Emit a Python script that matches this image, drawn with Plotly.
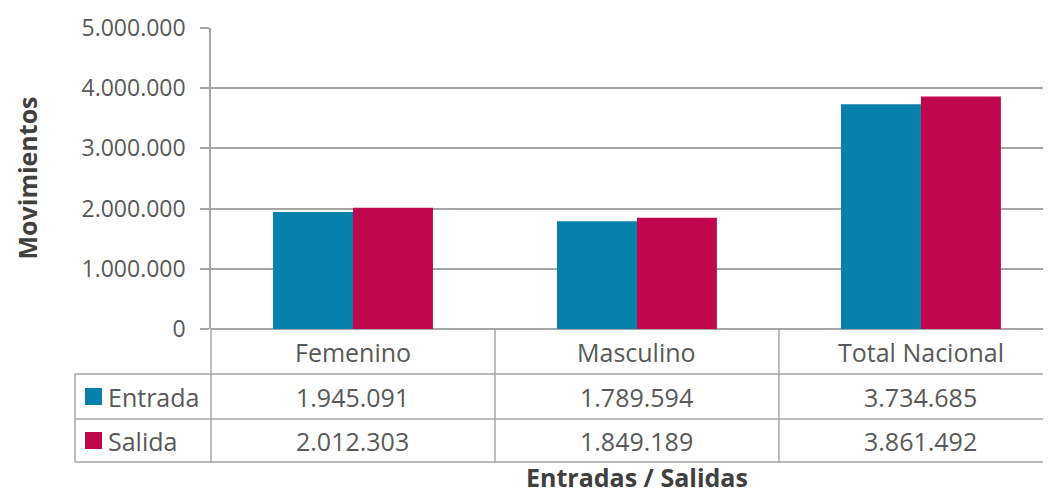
import plotly.graph_objects as go

categories = ["Femenino", "Masculino", "Total Nacional"]
entrada = [1945091, 1789594, 3734685]
salida = [2012303, 1849189, 3861492]
series_names = ["Entrada", "Salida"]
y_tick_vals = [0, 1000000, 2000000, 3000000, 4000000, 5000000]

BLUE = "#0780AC"
RED = "#C0064E"
GRID = "#A6A6A6"
TXT = "#595959"
TITLE = "#404040"
FONT = "Open Sans, Noto Sans, sans-serif"

# page has an 8px body margin, so the figure is 8px smaller than the window
W, H = 1043, 487
ML, MR, MT, MB = 203, 0, 20, 166
PL = 211  # plot left in page pixels
XR = [-0.5, 2.458]
plot_w = W - ML - MR
plot_h = H - MT - MB

def fmt(v):
    return f"{v:,}".replace(",", ".")

def xp(xd):
    return (xd - XR[0]) / (XR[1] - XR[0])

def xpage(px):
    return (px - PL) / plot_w

def yp(px):
    # pixel offset below the plot bottom -> paper coordinate
    return -px / plot_h

row_h = 45
y_cat = yp(0)
y_r1 = yp(row_h)
y_r2 = yp(2 * row_h)
y_r3 = yp(2 * row_h + 43)

fig = go.Figure()
fig.add_bar(x=categories, y=entrada, name=series_names[0], marker_color=BLUE,
            marker_line_width=0)
fig.add_bar(x=categories, y=salida, name=series_names[1], marker_color=RED,
            marker_line_width=0)

shapes = []
line = dict(color=GRID, width=1.5)
leg_left = xpage(75)
right = xp(2.5)
for yy in [y_r1, y_r2, y_r3]:
    shapes.append(dict(type="line", xref="paper", yref="paper", x0=leg_left, x1=right,
                       y0=yy, y1=yy, line=line))
shapes.append(dict(type="line", xref="paper", yref="paper", x0=0, x1=0, y0=0, y1=y_r3, line=line))
for b in [0.5, 1.5]:
    shapes.append(dict(type="line", xref="paper", yref="paper", x0=xp(b), x1=xp(b),
                       y0=0, y1=y_r3, line=line))
shapes.append(dict(type="line", xref="paper", yref="paper", x0=leg_left, x1=leg_left,
                   y0=y_r1, y1=y_r3, line=line))

annotations = []
tfont = dict(family=FONT, size=25, color=TXT)
for i, c in enumerate(categories):
    annotations.append(dict(x=i, y=(y_cat + y_r1) / 2, xref="x", yref="paper", text=c,
                            showarrow=False, font=tfont, xanchor="center", yanchor="middle"))
    annotations.append(dict(x=i, y=(y_r1 + y_r2) / 2, xref="x", yref="paper", text=fmt(entrada[i]),
                            showarrow=False, font=tfont, xanchor="center", yanchor="middle"))
    annotations.append(dict(x=i, y=(y_r2 + y_r3) / 2, xref="x", yref="paper", text=fmt(salida[i]),
                            showarrow=False, font=tfont, xanchor="center", yanchor="middle"))

key_x0 = xpage(85)
key_x1 = xpage(102)
for name, col, (ya, yb) in zip(series_names, [BLUE, RED], [(y_r1, y_r2), (y_r2, y_r3)]):
    ym = (ya + yb) / 2
    half = 8.5 / plot_h
    shapes.append(dict(type="rect", xref="paper", yref="paper", x0=key_x0, x1=key_x1,
                       y0=ym - half, y1=ym + half, fillcolor=col, line=dict(width=0)))
    annotations.append(dict(x=xpage(106), y=ym, xref="paper", yref="paper", text=name,
                            showarrow=False, font=tfont, xanchor="left", yanchor="middle"))

annotations.append(dict(x=xp(1), y=yp(MB), xref="paper", yref="paper",
                        text="<b>Entradas / Salidas</b>", showarrow=False,
                        font=dict(family=FONT, size=25, color=TITLE),
                        xanchor="center", yanchor="bottom", borderpad=0))
annotations.append(dict(x=xpage(8), y=0.5, xref="paper", yref="paper",
                        text="<b>Movimientos</b>", showarrow=False, textangle=-90,
                        font=dict(family=FONT, size=25, color=TITLE),
                        xanchor="left", yanchor="middle", borderpad=0))

fig.update_layout(
    width=W, height=H,
    margin=dict(l=ML, r=MR, t=MT, b=MB, pad=0),
    paper_bgcolor="white", plot_bgcolor="white",
    separators=",.",
    barmode="group", bargap=0.437, bargroupgap=0,
    showlegend=False,
    font=dict(family=FONT, color=TXT),
    shapes=shapes, annotations=annotations,
    xaxis=dict(range=XR, showticklabels=False, showgrid=False, zeroline=False,
               showline=False, ticks=""),
    yaxis=dict(range=[0, 5000000], tickvals=y_tick_vals, tickformat=",d",
               showgrid=True, gridcolor=GRID, gridwidth=1.5,
               zeroline=True, zerolinecolor=GRID, zerolinewidth=1.5,
               showline=True, linecolor=GRID, linewidth=1.5,
               ticks="outside", ticklen=9, tickcolor=GRID, tickwidth=1.5,
               ticklabelstandoff=10,
               tickfont=dict(family=FONT, size=23, color=TXT)),
)

fig.write_html("out.html")
